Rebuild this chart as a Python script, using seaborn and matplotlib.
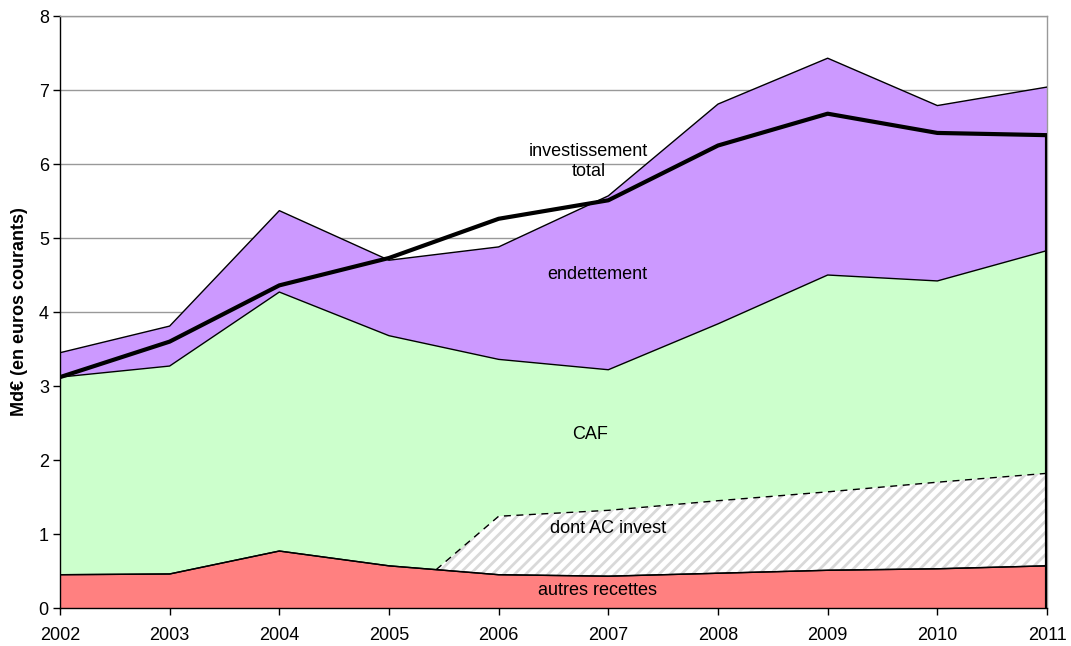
import numpy as np
import matplotlib
matplotlib.use("Agg")
import matplotlib.pyplot as plt
import seaborn as sns

# Data (Md€, current euros)
years = [2002, 2003, 2004, 2005, 2006, 2007, 2008, 2009, 2010, 2011]
autres_recettes = [0.45, 0.46, 0.77, 0.57, 0.45, 0.43, 0.47, 0.51, 0.53, 0.57]
caf = [2.67, 2.81, 3.50, 3.11, 2.91, 2.79, 3.37, 3.99, 3.89, 4.26]
endettement = [0.33, 0.54, 1.10, 1.02, 1.52, 2.35, 2.97, 2.93, 2.37, 2.21]
investissement_total = [3.12, 3.60, 4.36, 4.73, 5.26, 5.51, 6.25, 6.68, 6.42, 6.39]

# "dont AC invest" part of the CAF (starts mid-2005)
ac_years = [2005.43, 2006, 2007, 2008, 2009, 2010, 2011]
ac_invest = [0.0, 0.79, 0.89, 0.98, 1.06, 1.17, 1.25]

sns.set_theme(style="white")
plt.rcParams['font.family'] = ['Liberation Sans', 'DejaVu Sans']
plt.rcParams['hatch.linewidth'] = 2.0
plt.rcParams['hatch.color'] = '#d9d9d9'
plt.rcParams['text.color'] = 'black'
plt.rcParams['axes.labelcolor'] = 'black'
plt.rcParams['xtick.color'] = 'black'
plt.rcParams['ytick.color'] = 'black'

x = np.array(years, dtype=float)
r = np.array(autres_recettes)
c_top = r + np.array(caf)
e_top = c_top + np.array(endettement)

fig = plt.figure(figsize=(10.71, 6.46), dpi=100)
ax = fig.add_axes([0.056, 0.0588, 0.9216, 0.9164])

# stacked areas
ax.fill_between(x, 0, r, facecolor='#FF8080', edgecolor='none', zorder=2)
ax.fill_between(x, r, c_top, facecolor='#CCFFCC', edgecolor='none', zorder=2)
ax.fill_between(x, c_top, e_top, facecolor='#CC99FF', edgecolor='none', zorder=2)
for top in (r, c_top, e_top):
    ax.plot(x, top, color='black', lw=1, zorder=3)

# hatched AC invest area
ac_x = np.array(ac_years)
ac_base = np.interp(ac_x, x, r)
ac_top = ac_base + np.array(ac_invest)
ax.fill_between(ac_x, ac_base, ac_top, facecolor='white', edgecolor='#d9d9d9',
                hatch='///', lw=0, zorder=2.5)
ax.plot(ac_x, ac_top, color='black', lw=1, ls=(0, (5, 4)), zorder=3)
ax.plot(x, r, color='black', lw=1, zorder=3)

# total investment line
sns.lineplot(x=years, y=investissement_total, ax=ax, color='black', lw=3, zorder=4)
ax.plot([x[-1], x[-1]], [investissement_total[-1], 0], color='black', lw=3,
        zorder=4, solid_capstyle='butt')

ax.set_xlim(2002, 2011)
ax.set_ylim(0, 8)
ax.set_xticks(years)
ax.set_yticks(range(0, 9))
ax.yaxis.grid(True, color='#999999', lw=1, zorder=0)
ax.set_axisbelow(True)
ax.tick_params(axis='both', which='both', length=5, width=1, direction='out',
               labelsize=13, color='black', left=True, bottom=True, pad=3)
ax.tick_params(axis='x', pad=9)
for side in ('left', 'bottom'):
    ax.spines[side].set_color('black')
    ax.spines[side].set_linewidth(1)
for side in ('top', 'right'):
    ax.spines[side].set_color('#999999')
    ax.spines[side].set_linewidth(1)

ax.set_ylabel('Md€ (en euros courants)', fontsize=13, fontweight='bold', labelpad=8)

# in-chart labels
ax.text(2006.82, 6.03, 'investissement\ntotal', ha='center', va='center', fontsize=13, zorder=5)
ax.text(2006.9, 4.51, 'endettement', ha='center', va='center', fontsize=13, zorder=5)
ax.text(2006.83, 2.34, 'CAF', ha='center', va='center', fontsize=13, zorder=5)
ax.text(2007.0, 1.07, 'dont AC invest', ha='center', va='center', fontsize=13, zorder=5)
ax.text(2006.9, 0.23, 'autres recettes', ha='center', va='center', fontsize=13, zorder=5)

fig.savefig('out.png', dpi=100)
